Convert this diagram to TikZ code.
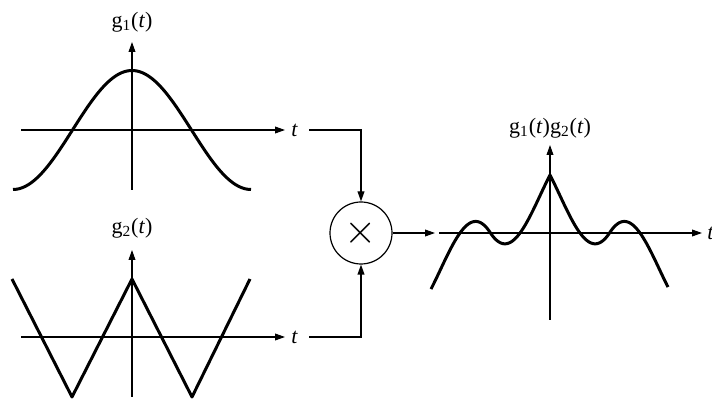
\documentclass[tikz,border=0pt]{standalone}
\usepackage{fontspec}
\setmainfont{Liberation Serif}
\usetikzlibrary{positioning, arrows.meta}

\begin{document}
\begin{tikzpicture}[
    x=0.5pt, y=-0.5pt,
    declare function={tri(\u)=asin(cos(3*\u))/90;},
    axis/.style={line width=0.6pt, -{Triangle[length=5pt, width=3.4pt]}},
    conn/.style={line width=0.6pt, -{Triangle[length=5pt, width=3.4pt]}},
    wave/.style={line width=1.5pt, line join=round},
    lbl/.style={font=\fontsize{11}{13}\selectfont, inner sep=1pt},
    mult/.style={circle, draw, line width=0.6pt, minimum size=31pt,
                 inner sep=0pt, font=\huge},
  ]
  \useasboundingbox (0,0) rectangle (712,400);

  % g1(t)
  \draw[axis] (21,130) -- (285,130);
  \draw[axis] (132,190) -- (132,42);
  \node[lbl] (g1) at (132,22) {g\textsubscript{1}(\textit{t})};
  \node[lbl, anchor=west] (t1) at (289,130) {\textit{t}};
  \draw[wave] plot[domain=13:251, samples=80, smooth]
    (\x, {130-59.5*cos((\x-132)/119*180)});

  % g2(t)
  \draw[axis] (21,337) -- (285,337);
  \draw[axis] (132,397) -- (132,250);
  \node[lbl] (g2) at (132,228) {g\textsubscript{2}(\textit{t})};
  \node[lbl, anchor=west] (t2) at (289,337) {\textit{t}};
  \draw[wave] (12,279) -- (72,397) -- (132,279) -- (192,397) -- (250,279);

  % multiplier
  \node[mult] (mx) at (361,233) {$\times$};
  \draw[conn, shorten <=4.5pt] (t1.east) -| (mx.north);
  \draw[conn, shorten <=4.5pt] (t2.east) -| (mx.south);
  \coordinate (p0) at (439,233);
  \draw[conn, shorten >=2pt] (mx.east) -- (p0);

  % g1(t)g2(t)
  \draw[axis] (p0) -- (702,233);
  \draw[axis] (550,320) -- (550,145);
  \node[lbl] (g12) at (550,128) {g\textsubscript{1}(\textit{t})g\textsubscript{2}(\textit{t})};
  \node[lbl, anchor=west] (t3) at (705,233) {\textit{t}};
  \draw[wave] plot[domain=-119:118, samples=238]
    (\x+550, {233-58*cos(\x/119*180)*tri(\x)});
\end{tikzpicture}
\end{document}
